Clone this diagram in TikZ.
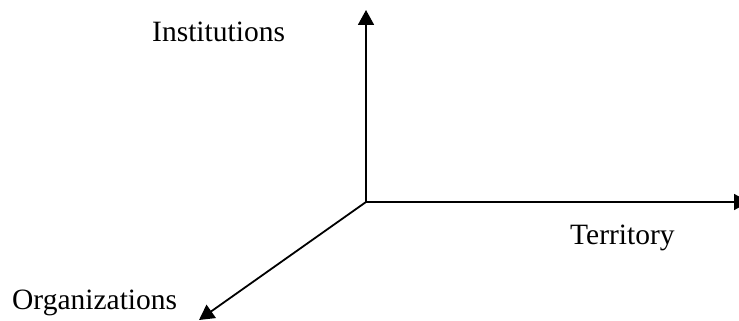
\documentclass[tikz,border=0pt]{standalone}
\usepackage{fontspec}
\setmainfont{Liberation Serif}
\usetikzlibrary{arrows.meta}
\begin{document}
\begin{tikzpicture}[x=1pt,y=1pt,
  axis/.style={line width=1.8pt,-{Triangle[length=15pt,width=16pt]}},
  lbl/.style={inner sep=0pt,anchor=base west,font=\fontsize{29.5}{36}\selectfont}]
\useasboundingbox (0,0) rectangle (739,321);
\coordinate (O) at (366,119);
\coordinate (up) at (366,311);
\coordinate (right) at (749,119);
\coordinate (dl) at (199,1);
\draw[axis] (O) -- (up);
\draw[axis] (O) -- (right);
\draw[axis] (O) -- (dl);
\node[lbl] (inst) at (152,279) {Institutions};
\node[lbl] (terr) at (570,76) {Territory};
\node[lbl] (org) at (12,11) {Organizations};
\end{tikzpicture}
\end{document}
